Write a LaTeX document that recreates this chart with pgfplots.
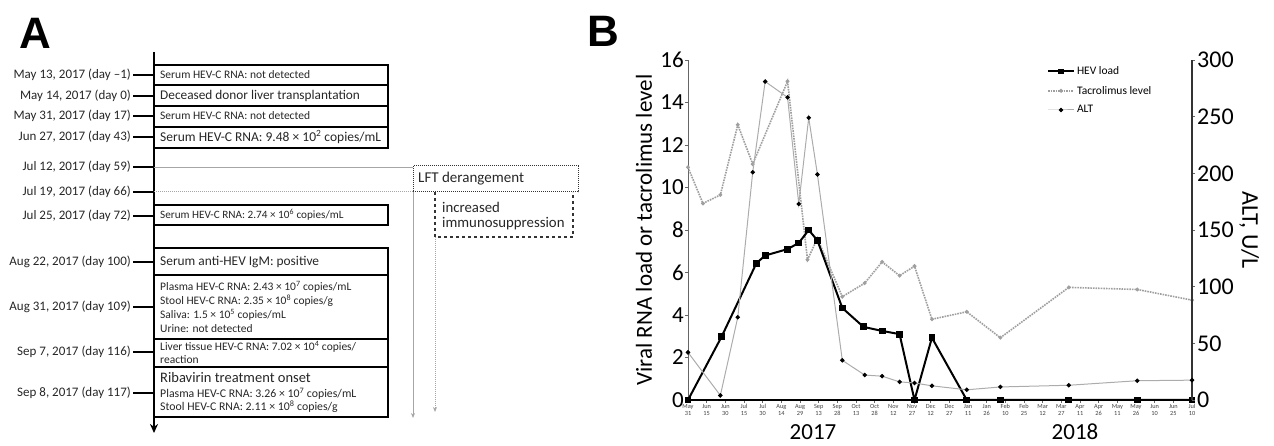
\documentclass[border=0pt]{standalone}
\usepackage{fontspec}
\setmainfont{Carlito}
\newfontfamily\headfont{Liberation Sans}
\usepackage{pgfplots}
\usepackage{pgfplotstable}
\pgfplotsset{compat=1.18}
\usetikzlibrary{arrows.meta}

% x = days since May 31, 2017
\pgfplotstableread{
d v
0 0
27 2.98
55 6.44
62 6.8
80 7.1
89 7.39
97 8.0
104 7.51
124 4.33
141 3.44
156 3.25
170 3.1
182 0
196 2.93
224 0
251 0
306 0
361 0
405 0
}\hevload

\pgfplotstableread{
d v
0 10.95
12 9.25
26 9.65
40 12.95
52 11.1
80 15.0
96 6.6
104 7.6
124 4.86
142 5.5
156 6.5
170 5.85
182 6.3
196 3.8
224 4.15
251 2.93
306 5.3
361 5.2
405 4.7
}\tacro

\pgfplotstableread{
d v
0 42
26 4
40 73
52 201
62 281
80 267
89 173
97 249
104 199
124 35
142 22
156 21
170 16
182 15
196 12.5
224 9
251 11.5
306 13
361 17
405 17.5
}\alt

\newcommand\fs[1]{\fontsize{#1}{#1}\selectfont}
\tikzset{
  hevstyle/.style={black, line width=2pt, mark=square*, mark size=2.4pt, mark options={solid}},
  tacstyle/.style={gray!75, line width=1.6pt, densely dotted, mark=*, mark size=1pt, mark options={solid, gray!75}},
  altstyle/.style={gray!65, line width=1pt, mark=*, mark size=1.7pt, mark options={black, solid}},
}

\begin{document}
\begin{tikzpicture}
\useasboundingbox (0,0) rectangle (1274pt,446pt);

% ---------------- panel A (pixel coordinates, y downwards)
\begin{scope}[shift={(0pt,446pt)}, x=1pt, y=-1pt]
\node[font=\headfont\bfseries\fs{44}] at (35,33) {A};
\node[font=\headfont\bfseries\fs{44}] at (603,31) {B};

% time line
\draw[line width=1.8pt, -{Stealth[length=9pt,width=8pt]}] (154,52) -- (154,433);

% dates
\foreach \y/\t in {75/{May 13, 2017 (day –1)}, 96/{May 14, 2017 (day 0)},
  116/{May 31, 2017 (day 17)}, 137/{Jun 27, 2017 (day 43)},
  167/{Jul 12, 2017 (day 59)}, 192/{Jul 19, 2017 (day 66)},
  216/{Jul 25, 2017 (day 72)}, 262/{Aug 22, 2017 (day 100)},
  307/{Aug 31, 2017 (day 109)}, 352/{Sep 7, 2017 (day 116)},
  393/{Sep 8, 2017 (day 117)}}{
  \node[anchor=east, font=\fs{13}, inner sep=0pt, text=black!85] at (131,\y) {\t};
  \draw[line width=1.6pt] (133,\y) -- (154,\y);
}

% boxes
\draw[line width=1.1pt] (154,65) rectangle (388,85);
\draw[line width=1.1pt] (154,85) rectangle (388,106);
\draw[line width=1.1pt] (154,106) rectangle (388,127);
\draw[line width=1.1pt] (154,127) rectangle (388,148);
\draw[line width=1.1pt] (154,205) rectangle (388,225);
\draw[line width=1.1pt] (154,248) rectangle (388,275);
\draw[line width=1.1pt] (154,275) rectangle (388,339);
\draw[line width=1.1pt] (154,339) rectangle (388,367);
\draw[line width=1.1pt] (154,367) rectangle (388,417);

\begin{scope}[every node/.style={anchor=west, inner sep=0pt, text=black!85}]
\node[font=\fs{11.5}] at (160,75) {Serum HEV-C RNA: not detected};
\node[font=\fs{13.3}] at (160,96) {Deceased donor liver transplantation};
\node[font=\fs{11.5}] at (160,116) {Serum HEV-C RNA: not detected};
\node[font=\fs{13.5}] at (160,137) {Serum HEV-C RNA: 9.48 × 10\textsuperscript{2} copies/mL};
\node[font=\fs{11.2}] at (160,215) {Serum HEV-C RNA: 2.74 × 10\textsuperscript{6} copies/mL};
\node[font=\fs{13.4}] at (160,262) {Serum anti-HEV IgM: positive};
\node[font=\fs{11.5}] at (160,287) {Plasma HEV-C RNA: 2.43 × 10\textsuperscript{7} copies/mL};
\node[font=\fs{11.5}] at (160,301) {Stool HEV-C RNA: 2.35 × 10\textsuperscript{8} copies/g};
\node[font=\fs{11.5}] at (160,315) {Saliva: 1.5 × 10\textsuperscript{5} copies/mL};
\node[font=\fs{11.5}] at (160,329) {Urine: not detected};
\node[font=\fs{11.5}] at (160,347) {Liver tissue HEV-C RNA: 7.02 × 10\textsuperscript{4} copies/};
\node[font=\fs{11.5}] at (160,360) {reaction};
\node[font=\fs{14.5}] at (160,378) {Ribavirin treatment onset};
\node[font=\fs{11.8}] at (160,394) {Plasma HEV-C RNA: 3.26 × 10\textsuperscript{7} copies/mL};
\node[font=\fs{11.8}] at (160,407) {Stool HEV-C RNA: 2.11 × 10\textsuperscript{8} copies/g};
\node[font=\fs{15}] at (418,179) {LFT derangement};
\node[font=\fs{14.8}] at (442,207) {increased};
\node[font=\fs{14.8}] at (442,224) {immunosuppression};
\end{scope}

% LFT derangement / immunosuppression
\draw[gray!70, line width=0.8pt] (154,167) -- (413,167);
\draw[gray!70, line width=0.8pt, -{Stealth[length=5pt,width=4pt]}] (413,192) -- (413,418);
\draw[black!80, line width=1pt, densely dotted] (413,166) rectangle (578,192);
\draw[gray!70, line width=1pt, densely dotted] (154,192) -- (413,192);
\draw[black!80, line width=1.1pt, dashed] (435,192) -- (435,237) -- (573,237) -- (573,192);
\draw[gray!70, line width=1pt, densely dotted, -{Stealth[length=5pt,width=4pt]}] (435,237) -- (435,412);

% years below panel B
\node[font=\fs{23}] at (813,432) {2017};
\node[font=\fs{23}] at (1075,432) {2018};
\end{scope}

% ---------------- panel B
\begin{axis}[
  at={(688pt,46pt)}, anchor=south west,
  scale only axis, width=504pt, height=340pt,
  xmin=0, xmax=405, ymin=0, ymax=16,
  axis x line*=bottom, axis y line*=left,
  axis line style={-},
  x axis line style={line width=1.4pt, black},
  y axis line style={line width=1pt, gray!80!black},
  tick align=outside, major tick length=3pt,
  tick style={gray!80!black, line width=0.6pt},
  /pgf/number format/assume math mode=true,
  ytick={0,2,...,16},
  yticklabel style={font=\fs{23}, inner sep=1pt},
  xtick={0,15,...,405},
  xticklabels={{May\\31},{Jun\\15},{Jun\\30},{Jul\\15},{Jul\\30},{Aug\\14},{Aug\\29},
    {Sep\\13},{Sep\\28},{Oct\\13},{Oct\\28},{Nov\\12},{Nov\\27},{Dec\\12},{Dec\\27},
    {Jan\\11},{Jan\\26},{Feb\\10},{Feb\\25},{Mar\\12},{Mar\\27},{Apr\\11},{Apr\\26},
    {May\\11},{May\\26},{Jun\\10},{Jun\\25},{Jul\\10}},
  xticklabel style={font=\fontsize{6.3}{6.8}\selectfont, align=center, text=black!75, inner sep=1pt},
  ylabel={Viral RNA load or tacrolimus level},
  ylabel style={font=\fs{23}},
  ylabel shift=4pt,
  clip=false,
]
\addplot[tacstyle] table[x=d, y=v] {\tacro};
\addplot[hevstyle] table[x=d, y=v] {\hevload};
\end{axis}

\begin{axis}[
  at={(688pt,46pt)}, anchor=south west,
  scale only axis, width=504pt, height=340pt,
  xmin=0, xmax=405, ymin=0, ymax=300,
  axis x line=none, axis y line*=right,
  axis line style={-, line width=1.2pt, black!80},
  tick align=outside, major tick length=3pt,
  tick style={gray!80!black, line width=0.6pt},
  /pgf/number format/assume math mode=true,
  ytick={0,50,...,300},
  yticklabel style={font=\fs{24}, inner sep=2pt},
  ylabel={ALT, U/L},
  ylabel style={font=\fs{24}, rotate=180},
  clip=false,
  legend style={at={(0.71,0.99)}, anchor=north west, draw=none, fill=none,
    font=\fs{11.5}, row sep=6pt, cells={anchor=west}, inner sep=1pt},
  legend image code/.code={\draw[mark repeat=2, mark phase=2, #1]
    plot coordinates {(0pt,0pt) (13pt,0pt) (26pt,0pt)};},
]
\addlegendimage{hevstyle, mark size=1.8pt}
\addlegendentry{HEV load}
\addlegendimage{tacstyle}
\addlegendentry{Tacrolimus level}
\addplot[altstyle] table[x=d, y=v] {\alt};
\addlegendentry{ALT}
\end{axis}
\end{tikzpicture}
\end{document}
